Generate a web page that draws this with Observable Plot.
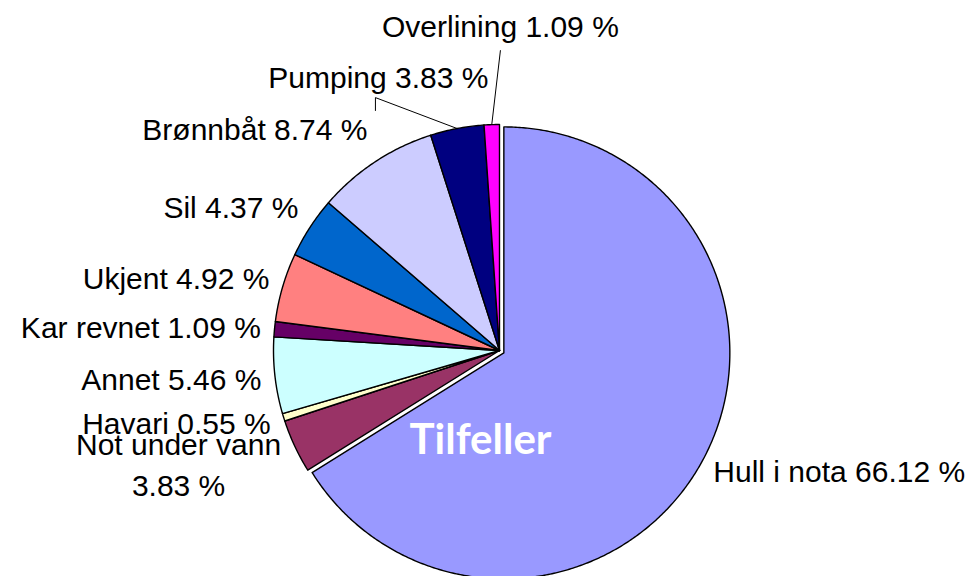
<!DOCTYPE html>
<html><head><meta charset="utf-8">
<script src="https://cdn.jsdelivr.net/npm/d3@7"></script>
<script src="https://cdn.jsdelivr.net/npm/@observablehq/plot@0.6"></script>
<style>body{margin:0;background:#fff;overflow:hidden}</style>
</head><body><div id="chart"></div>
<script>
// ---- data ----
const categories = ["Hull i nota","Not under vann","Havari","Annet","Kar revnet","Ukjent","Sil","Brønnbåt","Pumping","Overlining"];
const percents = [66.12, 3.83, 0.55, 5.46, 1.09, 4.92, 4.37, 8.74, 3.83, 1.09];
const colors = ["#9999FF","#993366","#FFFFCC","#CCFFFF","#660066","#FF8080","#0066CC","#CCCCFF","#000080","#FF00FF"];
const seriesName = "Tilfeller";

// ---- layout ----
const W = 971, H = 576, cx = 499, cy = 350, R = 226;
const explode = {"Hull i nota": 0.022};
// labels moved by hand in the original (pie units, relative to centre)
const labelOverride = {
  "Not under vann": {x: -1.42, y: -0.496, anchor: "middle", text: "Not under vann\n3.83 %"},
  "Pumping": {x: -0.049, y: 1.221, anchor: "end", leader: [[-0.549, 1.119], [-0.549, 1.062]]},
  "Overlining": {x: 0.004, y: 1.447, anchor: "middle", leader: [[0.004, 1.327]]}
};
const seriesPos = {x: -0.084, y: -0.398};

let cum = 0;
const slices = categories.map((c, i) => {
  const a0 = cum / 100 * 2 * Math.PI; cum += percents[i];
  const a1 = cum / 100 * 2 * Math.PI;
  const mid = (a0 + a1) / 2, e = explode[c] || 0;
  return {c, p: percents[i], a0, a1, mid, ox: Math.sin(mid) * e, oy: Math.cos(mid) * e};
});
const wedgePts = [];
for (const s of slices) {
  wedgePts.push({c: s.c, x: s.ox, y: s.oy});
  const n = Math.max(2, Math.ceil((s.a1 - s.a0) / (Math.PI / 360)));
  for (let k = 0; k <= n; k++) {
    const a = s.a0 + (s.a1 - s.a0) * k / n;
    wedgePts.push({c: s.c, x: s.ox + Math.sin(a), y: s.oy + Math.cos(a)});
  }
  wedgePts.push({c: s.c, x: s.ox, y: s.oy});
}
const labels = slices.map(s => {
  const o = labelOverride[s.c];
  const text = (o && o.text) || `${s.c} ${s.p.toFixed(2)} %`;
  if (o) return {text, x: o.x, y: o.y, anchor: o.anchor};
  const r = 1.06, cs = Math.cos(s.mid);
  return {
    text,
    x: s.ox + Math.sin(s.mid) * r,
    y: s.oy + cs * r + Math.max(cs, 0) * 28 / R,
    anchor: Math.sin(s.mid) < 0 ? "end" : "start"
  };
});
const leaders = [];
for (const s of slices) {
  const o = labelOverride[s.c];
  if (!o || !o.leader) continue;
  leaders.push({c: s.c, x: s.ox + Math.sin(s.mid), y: s.oy + Math.cos(s.mid)});
  for (const [x, y] of o.leader) leaders.push({c: s.c, x, y});
}

const font = "'Liberation Sans', Arial, sans-serif";
const chart = Plot.plot({
  width: W, height: H, margin: 0,
  x: {domain: [-1, 1], range: [cx - R, cx + R], axis: null},
  y: {domain: [-1, 1], range: [cy + R, cy - R], axis: null},
  color: {domain: categories, range: colors},
  marks: [
    Plot.line(wedgePts, {x: "x", y: "y", z: "c", fill: "c", stroke: "black", strokeWidth: 1.4, strokeLinejoin: "round", curve: "linear"}),
    Plot.line(leaders, {x: "x", y: "y", z: "c", stroke: "black", strokeWidth: 1}),
    ...["start", "end", "middle"].map(a =>
      Plot.text(labels.filter(d => d.anchor === a), {x: "x", y: "y", text: "text", textAnchor: a, lineAnchor: "middle", lineHeight: 1.37, fontSize: 30, fontFamily: font, fill: "black"})),
    Plot.text([seriesName], {x: () => seriesPos.x, y: () => seriesPos.y, text: d => d, fontSize: 42, fontWeight: "bold", fontFamily: "Lato, 'Open Sans', sans-serif", fill: "white"})
  ]
});
document.getElementById("chart").append(chart);
</script>
</body></html>
